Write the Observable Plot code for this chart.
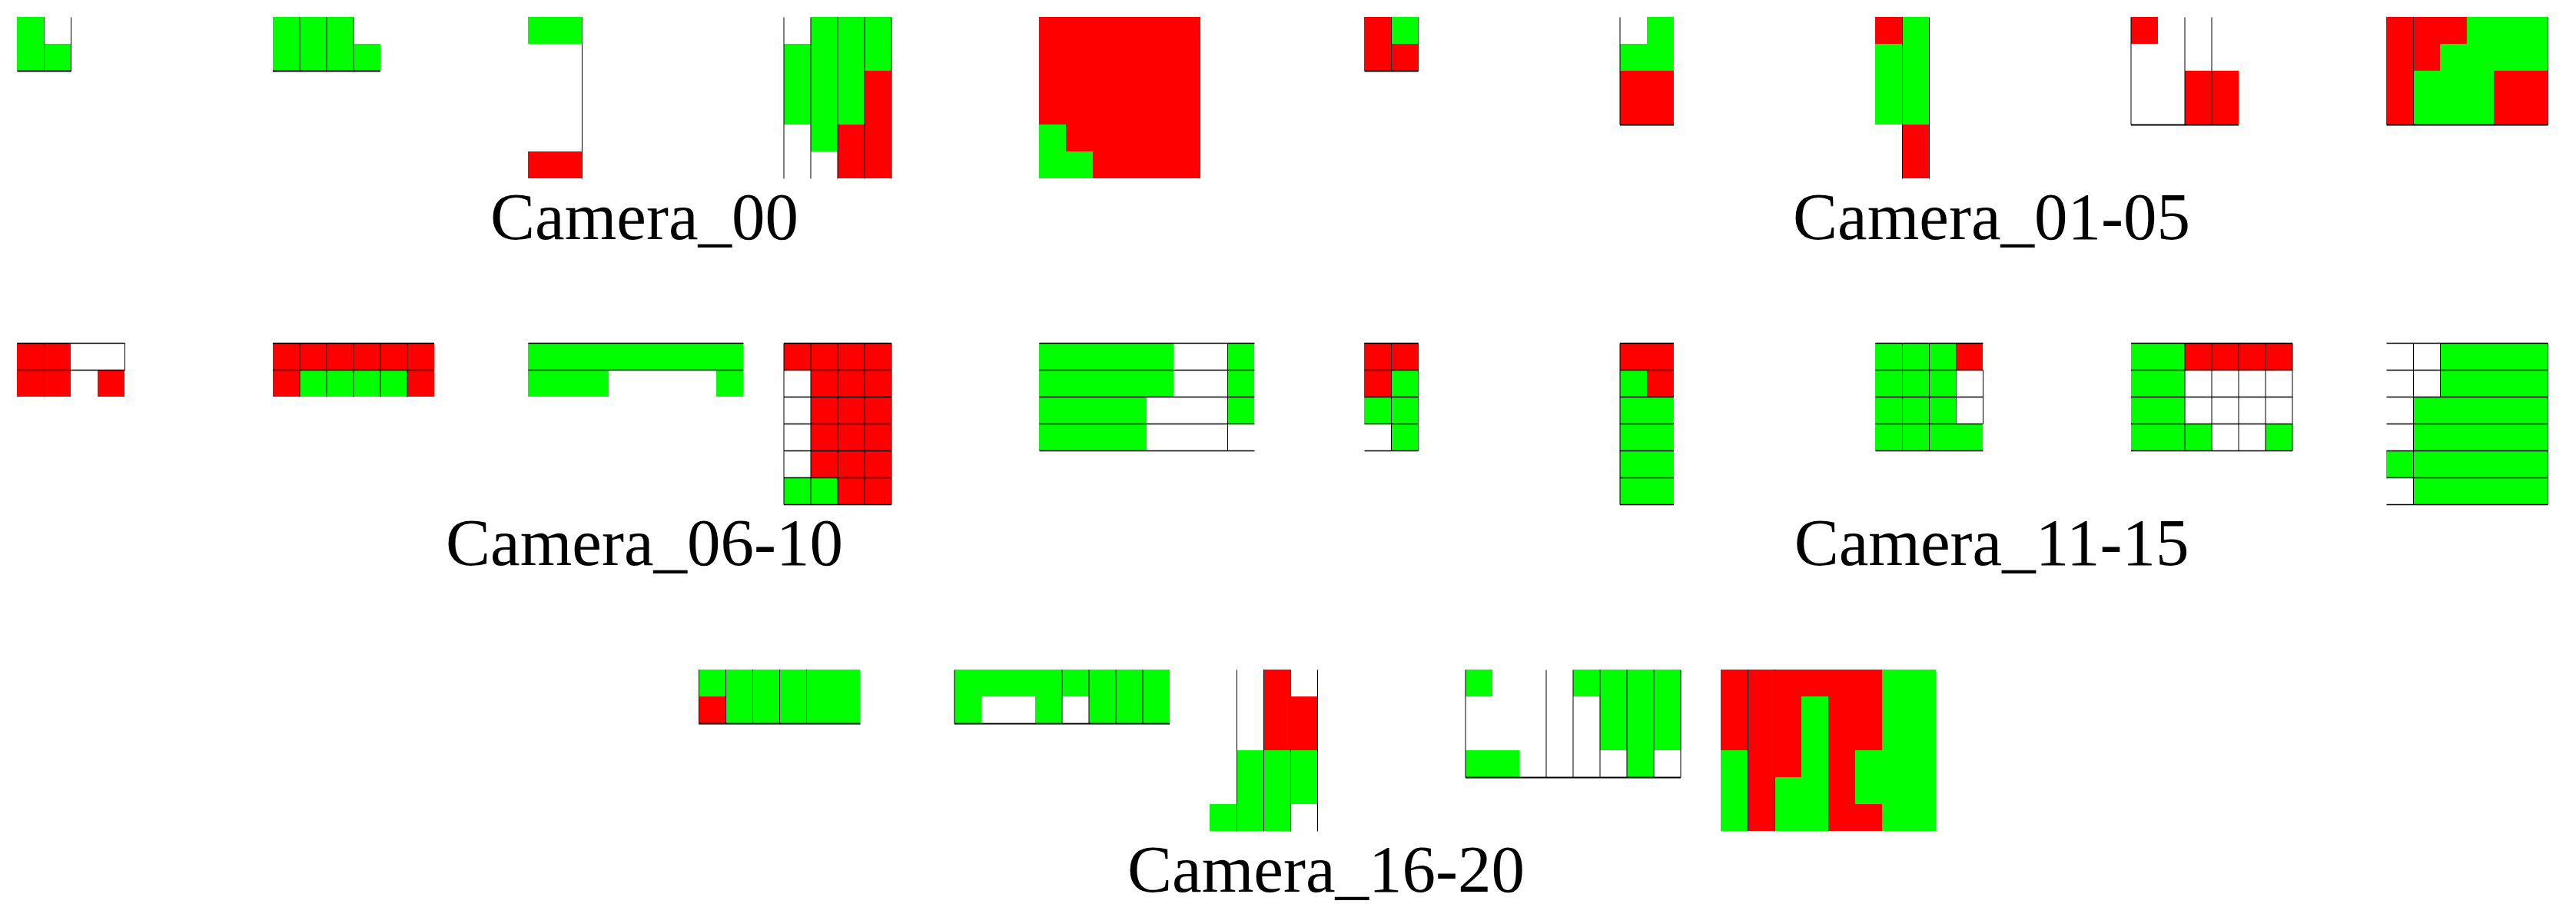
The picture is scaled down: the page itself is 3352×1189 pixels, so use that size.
<!DOCTYPE html>
<html><head><meta charset="utf-8">
<script src="https://cdn.jsdelivr.net/npm/d3@7"></script>
<script src="https://cdn.jsdelivr.net/npm/@observablehq/plot@0.6"></script>
<style>html,body{margin:0;padding:0;background:#fff;overflow:hidden}</style>
</head><body><div id="chart"></div>
<script>
// ---- data: group labels ----
const groupLabels = ["Camera_00", "Camera_01-05", "Camera_06-10", "Camera_11-15", "Camera_16-20"];

// ---- data: cell states per grid (rows top→bottom; G = green, R = red, W = empty) ----
const cam00 = [
  ["GW", "GG"],
  ["GGGW", "GGGG"],
  ["GG", "WW", "WW", "WW", "WW", "RR"],
  ["WGGG", "GGGG", "GGGR", "GGGR", "WGRR", "WWRR"],
  ["RRRRRR", "RRRRRR", "RRRRRR", "RRRRRR", "GRRRRR", "GGRRRR"]
];
const cam01_05 = [
  ["RG", "RR"],
  ["WG", "GG", "RR", "RR"],
  ["RG", "GG", "GG", "GG", "WR", "WR"],
  ["RWWW", "WWWW", "WWRR", "WWRR"],
  ["RRRGGG", "RRGGGG", "RGGGRR", "RGGGRR"]
];
const cam06_10 = [
  ["RRWW", "RRWR"],
  ["RRRRRR", "RGGGGR"],
  ["GGGGGGGG", "GGGWWWWG"],
  ["RRRR", "WRRR", "WRRR", "WRRR", "WRRR", "GGRR"],
  ["GGGGGWWG", "GGGGGWWG", "GGGGWWWG", "GGGGWWWW"]
];
const cam11_15 = [
  ["RR", "RG", "GG", "WG"],
  ["RR", "GR", "GG", "GG", "GG", "GG"],
  ["GGGR", "GGGW", "GGGW", "GGGG"],
  ["GGRRRR", "GGWWWW", "GGWWWW", "GGGWWG"],
  ["WWGGGG", "WWGGGG", "WGGGGG", "WGGGGG", "GGGGGG", "WGGGGG"]
];
const cam16_20 = [
  ["GGGGGG", "RGGGGG"],
  ["GGGGGGGG", "GWWGWGGG"],
  ["WWRW", "WWRR", "WWRR", "WGGG", "WGGG", "GGGW"],
  ["GWWWGGGG", "WWWWWGGG", "WWWWWGGG", "GGWWWWGW"],
  ["RRRRRRGG", "RRRGRRGG", "RRRGRRGG", "GRRGRGGG", "GRGGRGGG", "GRGGRRGG"]
];

// ---- data: divider lines per group: [grid, boundary, from, to] ----
const cam00V = [[0,1,0,2],[0,2,0,2],[1,1,0,2],[1,2,0,2],[1,3,0,2],[2,2,0,6],
  [3,0,0,6],[3,1,0,6],[3,2,0,6],[3,3,0,6],[3,4,0,6]];
const cam00B = [[0,2,0,2],[1,2,0,4]];
const cam01_05V = [[0,1,0,2],[0,2,0,2],[1,0,0,4],[2,1,0,6],[2,2,0,6],
  [3,0,0,4],[3,2,0,4],[3,3,0,4],[4,1,0,4],[4,6,0,4]];
const cam01_05B = [[0,2,0,2],[1,4,0,2],[3,4,0,4],[4,4,0,6]];
const cam06_10V = [[0,1,0,2],[0,4,0,1],[1,1,0,2],[1,2,0,2],[1,3,0,2],[1,4,0,2],[1,5,0,2],
  [3,0,0,6],[3,1,0,6],[3,2,0,6],[3,3,0,6],[3,4,0,6],[4,7,0,4]];
const cam06_10H = [[0,0,0,4],[0,1,0,4],[1,0,0,6],[1,1,0,6],[2,0,0,8],[2,1,0,8],
  [3,0,0,4],[3,1,0,4],[3,2,0,4],[3,3,0,4],[3,4,0,4],[3,5,0,4],[3,6,0,4],
  [4,0,0,8],[4,1,0,8],[4,2,0,8],[4,3,0,8],[4,4,0,8]];
const cam11_15V = [[0,1,0,4],[0,2,0,4],[1,0,0,6],[2,1,0,4],[2,2,0,4],[2,3,0,3],[2,4,1,3],
  [3,2,0,4],[3,3,0,4],[3,4,0,4],[3,5,0,4],[3,6,0,4],[4,1,0,6],[4,2,0,2],[4,6,0,6]];
const cam11_15H = [[0,0,0,2],[0,1,0,2],[0,2,0,2],[0,3,0,2],[0,4,0,2],
  [1,0,0,2],[1,1,0,2],[1,2,0,2],[1,3,0,2],[1,4,0,2],[1,5,0,2],[1,6,0,2],
  [2,0,0,4],[2,1,0,4],[2,2,0,4],[2,3,0,4],[2,4,0,4],
  [3,0,0,6],[3,1,0,6],[3,2,0,6],[3,3,0,6],[3,4,0,6],
  [4,0,0,6],[4,1,0,6],[4,2,0,6],[4,3,0,6],[4,4,0,6],[4,5,0,6],[4,6,0,6]];
const cam16_20V = [[0,0,0,2],[0,1,0,2],[0,2,0,2],[0,3,0,2],[0,4,0,2],
  [1,0,0,2],[1,4,0,2],[1,5,0,2],[1,6,0,2],[1,7,0,2],
  [2,1,0,6],[2,2,0,6],[2,3,0,6],[2,4,0,6],
  [3,0,0,4],[3,3,0,4],[3,4,0,4],[3,5,0,4],[3,6,0,4],[3,7,0,4],[3,8,0,4],
  [4,1,0,6],[4,2,0,6]];
const cam16_20B = [[0,2,0,6],[1,2,0,8],[3,4,0,8]];

// ---- layout (pixels) ----
const W = 3352, H = 1189, CELL = 35, PITCH = 332.5, SLOT = 302;
const origins = [[22, 22], [1775, 22], [22, 446], [1775, 446], [909, 871]];
const groups = [cam00, cam01_05, cam06_10, cam11_15, cam16_20];
const vLines = [cam00V, cam01_05V, cam06_10V, cam11_15V, cam16_20V];
const hLines = [[], [], cam06_10H, cam11_15H, []];
const bLines = [cam00B, cam01_05B, [], [], cam16_20B];
const colorOf = {G: "#00ff00", R: "#ff0000"};

const u = px => px / CELL; // pixels → cell units
const cells = [], vl = [], hl = [], bl = [], texts = [];
groups.forEach((grids, g) => {
  const [ox, oy] = origins[g];
  const gx = i => u(ox + i * PITCH);
  grids.forEach((rows, i) => {
    rows.forEach((row, r) => {
      [...row].forEach((ch, c) => {
        if (colorOf[ch]) cells.push({x1: gx(i) + c, x2: gx(i) + c + 1, y1: u(oy) + r, y2: u(oy) + r + 1, fill: colorOf[ch]});
      });
    });
  });
  vLines[g].forEach(([i, b, a, z]) => vl.push({x1: gx(i) + b, x2: gx(i) + b, y1: u(oy) + a, y2: u(oy) + z}));
  hLines[g].forEach(([i, b, a, z]) => hl.push({x1: gx(i) + a, x2: gx(i) + z, y1: u(oy) + b, y2: u(oy) + b}));
  bLines[g].forEach(([i, b, a, z]) => bl.push({x1: gx(i) + a, x2: gx(i) + z, y1: u(oy) + b, y2: u(oy) + b}));
  texts.push({x: u(ox + (4 * PITCH + SLOT) / 2), y: u(oy + 288), text: groupLabels[g]});
});

const chart = Plot.plot({
  width: W, height: H, margin: 0,
  x: {domain: [0, u(W)], range: [0, W], axis: null},
  y: {domain: [0, u(H)], range: [0, H], axis: null},
  color: {type: "identity"},
  marks: [
    Plot.rect(cells, {x1: "x1", x2: "x2", y1: "y1", y2: "y2", fill: "fill", shapeRendering: "crispEdges"}),
    Plot.link(vl, {x1: "x1", x2: "x2", y1: "y1", y2: "y2", stroke: "black", strokeWidth: 1}),
    Plot.link(hl, {x1: "x1", x2: "x2", y1: "y1", y2: "y2", stroke: "black", strokeWidth: 1.6}),
    Plot.link(bl, {x1: "x1", x2: "x2", y1: "y1", y2: "y2", stroke: "black", strokeWidth: 2.2}),
    Plot.text(texts, {x: "x", y: "y", text: "text", fontSize: 87, fontFamily: "Liberation Serif", fill: "black", textAnchor: "middle", lineAnchor: "bottom"})
  ]
});
document.getElementById("chart").appendChild(chart);
</script>
</body></html>
